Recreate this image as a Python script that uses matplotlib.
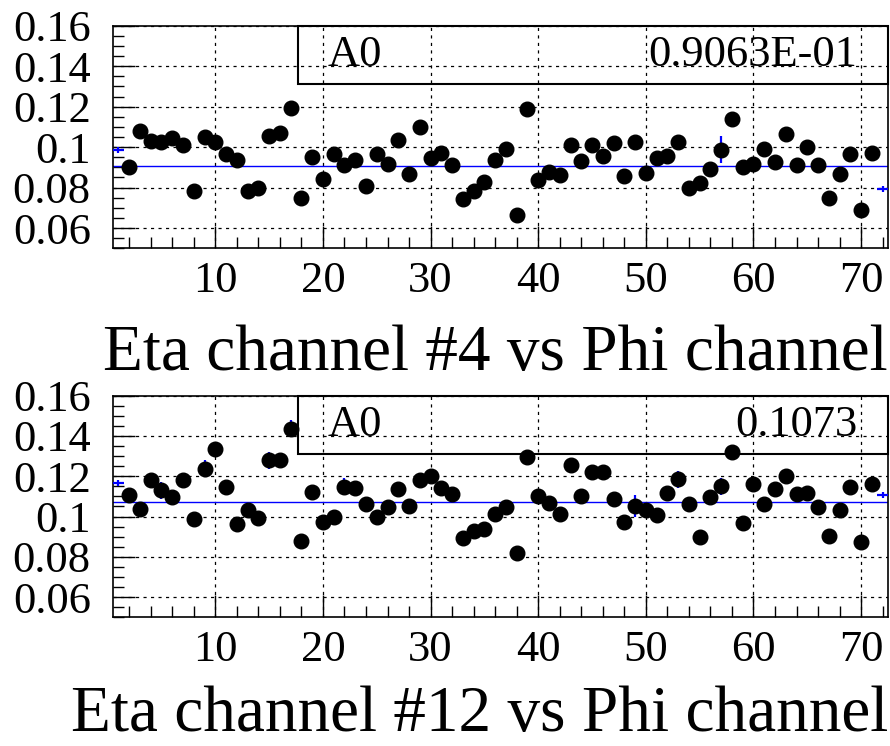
import numpy as np
import matplotlib
matplotlib.use('Agg')
import matplotlib.pyplot as plt
from matplotlib.ticker import MultipleLocator, FuncFormatter

# --- Gain constants per Phi channel, two Eta channels ---

phi = np.arange(1, 73)

eta4 = [0.0984, 0.0901, 0.1079, 0.1030, 0.1026, 0.1046, 0.1008, 0.0783, 0.1049, 0.1025,
        0.0964, 0.0934, 0.0783, 0.0798, 0.1054, 0.1069, 0.1194, 0.0750, 0.0951, 0.0840,
        0.0967, 0.0911, 0.0937, 0.0806, 0.0967, 0.0918, 0.1036, 0.0865, 0.1099, 0.0946,
        0.0972, 0.0913, 0.0742, 0.0783, 0.0826, 0.0937, 0.0992, 0.0666, 0.1186, 0.0835,
        0.0878, 0.0862, 0.1010, 0.0933, 0.1010, 0.0957, 0.1020, 0.0858, 0.1023, 0.0872,
        0.0947, 0.0957, 0.1023, 0.0798, 0.0822, 0.0890, 0.0987, 0.1140, 0.0901, 0.0918,
        0.0990, 0.0926, 0.1063, 0.0914, 0.1003, 0.0911, 0.0750, 0.0868, 0.0967, 0.0691,
        0.0970, 0.0791]
eta4_err = [0.0015] * 72
eta4_err[56] = 0.0067

eta12 = [0.1167, 0.1106, 0.1036, 0.1180, 0.1131, 0.1099, 0.1180, 0.0987, 0.1238, 0.1337,
         0.1145, 0.0962, 0.1031, 0.0992, 0.1279, 0.1279, 0.1436, 0.0879, 0.1122, 0.0974,
         0.0998, 0.1147, 0.1144, 0.1064, 0.0998, 0.1048, 0.1139, 0.1053, 0.1180, 0.1200,
         0.1144, 0.1114, 0.0893, 0.0927, 0.0940, 0.1015, 0.1048, 0.0817, 0.1296, 0.1101,
         0.1068, 0.1015, 0.1256, 0.1101, 0.1223, 0.1220, 0.1088, 0.0974, 0.1051, 0.1031,
         0.1010, 0.1117, 0.1185, 0.1060, 0.0899, 0.1098, 0.1150, 0.1322, 0.0969, 0.1160,
         0.1064, 0.1139, 0.1200, 0.1114, 0.1117, 0.1048, 0.0906, 0.1031, 0.1147, 0.0873,
         0.1160, 0.1107]
eta12_err = [0.0015] * 72
for ch in [5, 9, 15, 17, 22, 53, 57]:
    eta12_err[ch - 1] = 0.0042
eta12_err[48] = 0.0054

fit_a0 = [0.09063, 0.1073]
fit_text = ['0.9063E-01', '0.1073']
titles = ['Eta channel #4 vs Phi channel', 'Eta channel #12 vs Phi channel']

plt.rcParams['font.family'] = ['Liberation Serif', 'DejaVu Serif']

fig = plt.figure(figsize=(8.9, 7.46), dpi=100)
# axes rectangles in figure fraction
rects = [[0.127, 0.6672, 0.8708, 0.2983], [0.127, 0.1725, 0.8708, 0.2971]]
title_y = [-0.545, -0.513]
series = [(eta4, eta4_err), (eta12, eta12_err)]

for i in range(2):
    ax = fig.add_axes(rects[i])
    vals, errs = series[i]
    vals = np.array(vals)

    # histogram with errors (blue)
    ax.errorbar(phi, vals, xerr=0.5, yerr=errs, fmt='none', ecolor='#0000ff',
                elinewidth=1.6, capsize=0, zorder=3)
    # fitted constant
    ax.axhline(fit_a0[i], color='#0000ff', lw=1.0, zorder=2)
    # data points (channels 2..71)
    ax.plot(phi[1:-1], vals[1:-1], 'o', color='black', ms=10.5, zorder=6)

    ax.set_xlim(0.5, 72.5)
    ax.set_ylim(0.05, 0.16)
    ax.xaxis.set_major_locator(MultipleLocator(10))
    ax.xaxis.set_minor_locator(MultipleLocator(2))
    ax.yaxis.set_major_locator(MultipleLocator(0.02))
    ax.yaxis.set_minor_locator(MultipleLocator(0.005))
    ax.yaxis.set_major_formatter(FuncFormatter(lambda v, p: '%g' % round(v, 3)))
    ax.set_xticks([10, 20, 30, 40, 50, 60, 70])
    ax.tick_params(which='both', direction='in', top=False, right=False,
                   width=1.0, color='black')
    ax.tick_params(which='major', length=16, labelsize=32)
    ax.tick_params(axis='y', which='major', pad=16)
    ax.tick_params(axis='x', which='major', pad=9)
    ax.tick_params(which='minor', length=8)
    ax.grid(True, which='major', color='black', lw=0.9, linestyle=(0, (2.5, 3.5)))
    for s in ax.spines.values():
        s.set_linewidth(1.2)

    # stats box (transparent, grid shows through)
    box = plt.Rectangle((0.239, 0.738), 0.761, 0.262, transform=ax.transAxes,
                        facecolor='none', edgecolor='black', lw=1.5, zorder=5,
                        clip_on=False)
    ax.add_patch(box)
    ax.text(0.277, 0.867, 'A0', transform=ax.transAxes, fontsize=32,
            va='center', ha='left', zorder=5)
    ax.text(0.960, 0.867, fit_text[i], transform=ax.transAxes, fontsize=32,
            va='center', ha='right', zorder=5)

    # axis title, right aligned at axis end
    ax.text(1.0, title_y[i], titles[i], transform=ax.transAxes, fontsize=47,
            ha='right', va='baseline')

fig.savefig('out.png', dpi=100)
